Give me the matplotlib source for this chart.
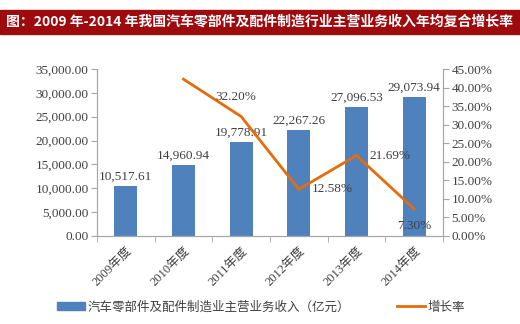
import numpy as np
import matplotlib.pyplot as plt
from matplotlib.patches import Rectangle

plt.rcParams['font.family'] = ['Liberation Serif', 'Noto Sans CJK SC', 'DejaVu Sans']

# Revenue (100M yuan) and year-on-year growth
years = ['2009年度', '2010年度', '2011年度', '2012年度', '2013年度', '2014年度']
revenue = [10517.61, 14960.94, 19778.91, 22267.26, 27096.53, 29073.94]
growth = [None, 42.25, 32.20, 12.58, 21.69, 7.30]
growth_labels = ['', '', '32.20%', '12.58%', '21.69%', '7.30%']

bar_color = '#4F81BD'
line_color = '#E46C0A'
axis_color = '#A6A6A6'
text_color = '#404040'

fig = plt.figure(figsize=(5.2, 3.24), dpi=100)

# dark red title band across the top
fig.patches.append(Rectangle((0, 1 - 34 / 324), 1, 24 / 324, transform=fig.transFigure,
                             color='#9E0B0F', zorder=0))
fig.text(6 / 520, 1 - 22 / 324, '图：2009 年-2014 年我国汽车零部件及配件制造行业主营业务收入年均复合增长率',
         color='white', fontsize=10, fontweight='bold', va='center', ha='left',
         family=['Noto Sans CJK SC', 'DejaVu Sans'])

ax = fig.add_axes([97 / 520, 1 - 236 / 324, 346 / 520, 167 / 324])
ax2 = ax.twinx()

x = np.arange(len(years))
bars = ax.bar(x, revenue, width=0.4, color=bar_color, zorder=2)
for xi, v in zip(x, revenue):
    ax.text(xi, v + 700, f'{v:,.2f}', ha='center', va='bottom', fontsize=9.5, color=text_color)

ax.set_xlim(-0.5, len(years) - 0.5)
ax.set_ylim(0, 35000)
ax.set_yticks(np.arange(0, 35001, 5000))
ax.set_yticklabels([f'{v:,.2f}' for v in np.arange(0, 35001, 5000)], fontsize=9.5, color=text_color)
ax.set_xticks(x)
ax.set_xticklabels(years, rotation=45, ha='right', rotation_mode='anchor', fontsize=9,
                   color=text_color, family=['Liberation Serif', 'Noto Sans CJK SC'])
ax.set_xticks(np.arange(-0.5, len(years)), minor=True)
ax.tick_params(axis='x', which='major', length=0, pad=6)
ax.tick_params(axis='x', which='minor', length=4, color=axis_color)
ax.tick_params(axis='y', length=4, color=axis_color, pad=2)

gx = [xi for xi, g in zip(x, growth) if g is not None]
gy = [g for g in growth if g is not None]
line, = ax2.plot(gx, gy, color=line_color, linewidth=2, solid_joinstyle='round', zorder=3)
ax2.set_ylim(0, 45)
ax2.set_yticks(np.arange(0, 45.1, 5))
ax2.set_yticklabels([f'{v:.2f}%' for v in np.arange(0, 45.1, 5)], fontsize=9.5, color=text_color)
ax2.tick_params(axis='y', length=4, color=axis_color, pad=2)

# growth labels: above, right, right, below
offsets = {2: (-4, 10, 'center', 'bottom'), 3: (9, 0, 'left', 'center'),
           4: (9, 0, 'left', 'center'), 5: (0, -8, 'center', 'top')}
for i, lab in enumerate(growth_labels):
    if lab:
        dx, dy, ha, va = offsets[i]
        ax2.annotate(lab, (x[i], growth[i]), xytext=(dx, dy), textcoords='offset points',
                     ha=ha, va=va, fontsize=9.5, color=text_color)

for a in (ax, ax2):
    a.spines['top'].set_visible(False)
    a.spines['left'].set_color(axis_color)
    a.spines['right'].set_color(axis_color)
    a.spines['bottom'].set_color(axis_color)

leg_handles = [Rectangle((0, 0), 1, 1, color=bar_color), line]
fig.legend(leg_handles, ['汽车零部件及配件制造业主营业务收入（亿元）', '增长率'],
           loc='center', bbox_to_anchor=(261 / 520, 1 - 307 / 324), ncol=2, frameon=False,
           prop={'family': ['Noto Sans CJK SC', 'DejaVu Sans'], 'size': 9},
           handlelength=2.2, handleheight=0.6, columnspacing=3.8, handletextpad=0.2,
           labelcolor=text_color)

fig.savefig('out.png', dpi=100)
